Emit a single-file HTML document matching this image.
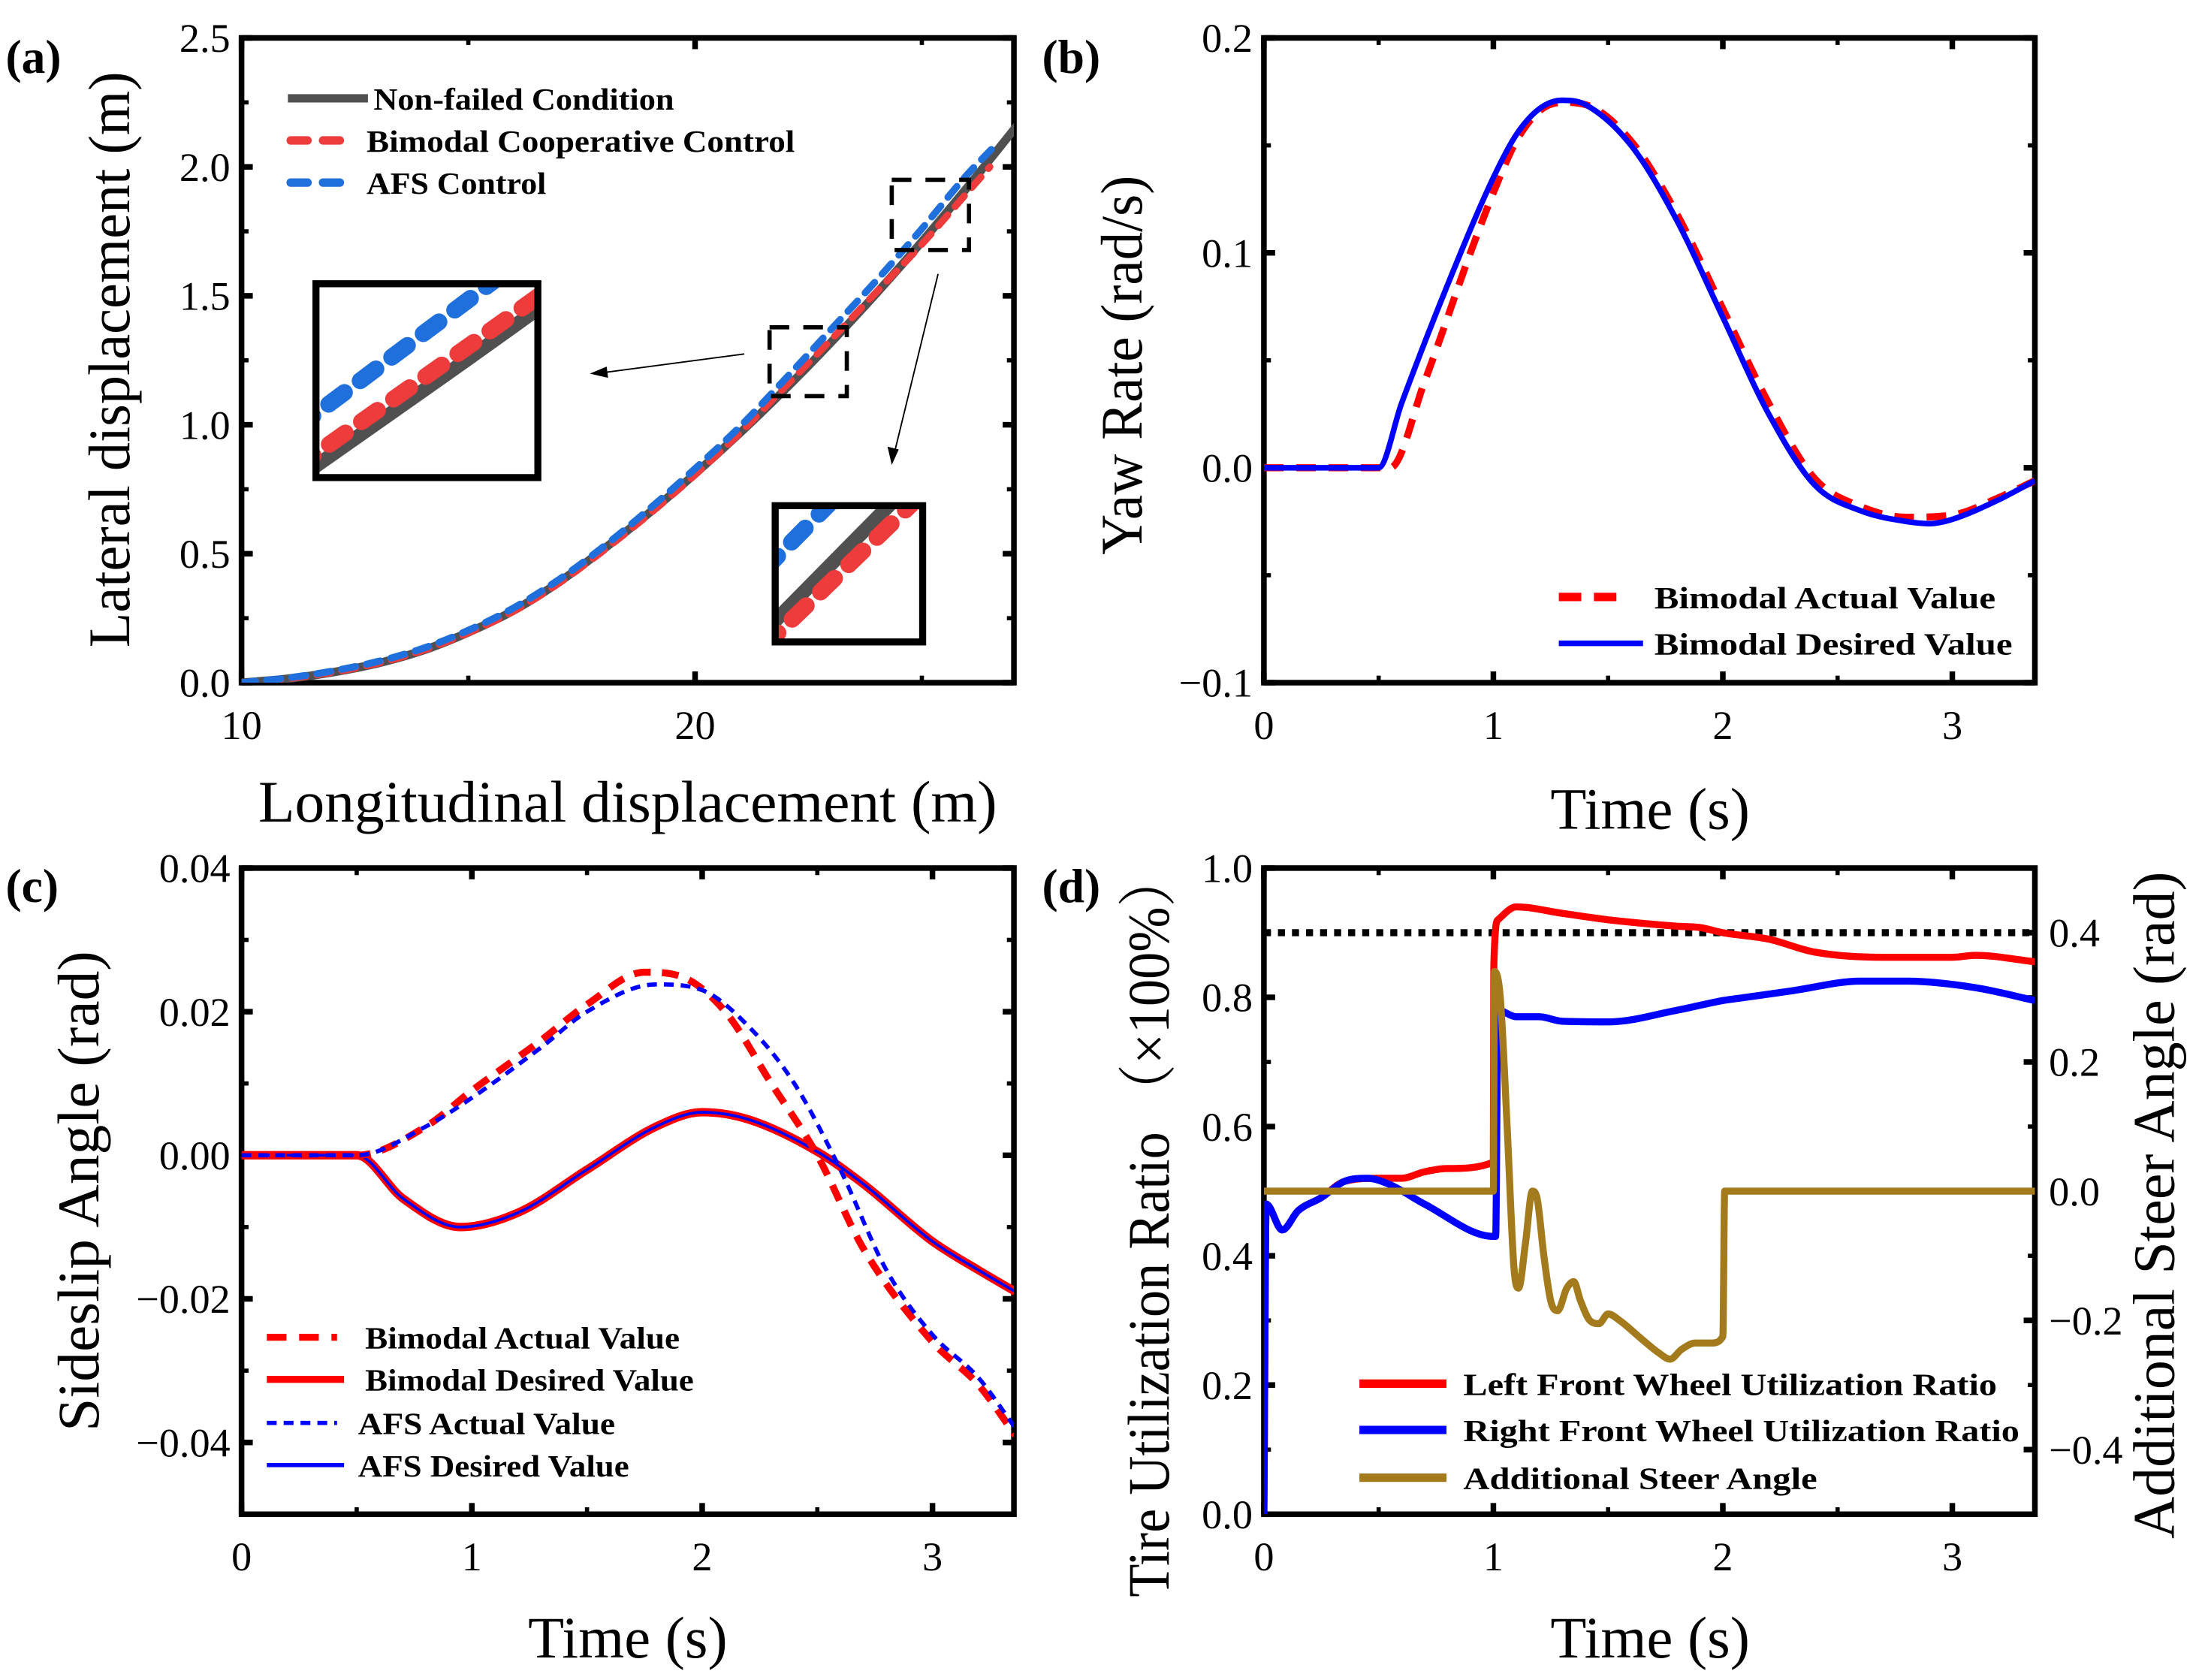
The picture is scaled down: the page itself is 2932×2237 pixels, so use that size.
<!DOCTYPE html>
<html><head><meta charset="utf-8"><style>
html,body{margin:0;padding:0;background:#fff;width:2932px;height:2237px;overflow:hidden}
svg{display:block;overflow:hidden}
text{font-family:"Liberation Serif","Noto Serif CJK SC",serif;fill:#000}
.tk{font-size:29px}
.ttl{font-size:42px}
.lg{font-size:22px;font-weight:bold}
.pl{font-size:34px;font-weight:bold}
</style></head><body>
<svg id="fig" width="2932" height="2237" viewBox="0 0 1568 1196" preserveAspectRatio="none" xmlns="http://www.w3.org/2000/svg">
<defs>
<clipPath id="ca"><rect x="172" y="27" width="550" height="459"/></clipPath>
<clipPath id="cb"><rect x="900" y="27" width="549" height="459"/></clipPath>
<clipPath id="cc"><rect x="172" y="618" width="550" height="460"/></clipPath>
<clipPath id="cd"><rect x="900" y="618" width="549" height="460"/></clipPath>
<clipPath id="ci1"><rect x="227" y="204" width="154" height="134"/></clipPath>
<clipPath id="ci2"><rect x="554" y="362" width="101" height="93"/></clipPath>
</defs>
<g id="root"></g>
</svg>
<script>
// ---------- data (a) ----------
const aNonX=[10,11,12,13,14,15,16,17,18,19,20,21,22,23,24,25,26,27.1];
const aNonY=[0,0.015,0.04,0.075,0.125,0.195,0.28,0.39,0.52,0.66,0.81,0.97,1.14,1.32,1.51,1.71,1.92,2.16];
const aBiX=[10,11,12,13,14,15,16,17,18,19,20,21,22,23,24,25,26,26.5];
const aBiY=[0,0.015,0.04,0.075,0.125,0.193,0.277,0.386,0.515,0.655,0.806,0.97,1.15,1.33,1.515,1.7,1.9,2.0];
const aAfX=[10,11,12,13,14,15,16,17,18,19,20,21,22,23,24,25,26,26.6];
const aAfY=[0,0.018,0.045,0.082,0.133,0.203,0.29,0.4,0.53,0.675,0.83,0.995,1.18,1.37,1.56,1.76,1.97,2.08];
const aXTicks=[10,20];
const aYTicks=[0,0.5,1.0,1.5,2.0,2.5];
// ---------- data (b) ----------
const bDesT=[0,0.5,0.6,0.8,1.0,1.1,1.2,1.3,1.4,1.6,1.8,2.0,2.2,2.4,2.6,2.8,2.9,3.0,3.2,3.36];
const bDesV=[0,0,0.03,0.085,0.135,0.155,0.167,0.171,0.169,0.15,0.115,0.07,0.025,-0.008,-0.02,-0.025,-0.026,-0.024,-0.015,-0.006];
const bActT=[0,0.55,0.7,0.9,1.0,1.1,1.2,1.3,1.4,1.6,1.8,2.0,2.2,2.4,2.6,2.8,3.0,3.2,3.36];
const bActV=[0,0,0.04,0.1,0.128,0.152,0.166,0.17,0.169,0.152,0.118,0.074,0.03,-0.005,-0.018,-0.023,-0.022,-0.014,-0.006];
const bXTicks=[0,1,2,3];
const bYTicks=[-0.1,0,0.1,0.2];
// ---------- data (c) ----------
const cDesT=[0,0.5,0.7,0.95,1.2,1.5,1.8,2.0,2.2,2.5,2.7,3.0,3.2,3.36];
const cDesV=[0,0,-0.006,-0.01,-0.008,-0.002,0.004,0.006,0.005,0.0005,-0.004,-0.012,-0.016,-0.019];
const cBiT=[0,0.5,0.8,1.0,1.3,1.5,1.75,1.9,2.1,2.3,2.5,2.7,3.0,3.2,3.36];
const cBiV=[0,0,0.004,0.009,0.016,0.021,0.0255,0.025,0.02,0.01,0.0,-0.013,-0.026,-0.032,-0.039];
const cAfT=[0,0.5,0.8,1.0,1.3,1.5,1.8,2.0,2.2,2.4,2.6,2.8,3.0,3.2,3.36];
const cAfV=[0,0,0.004,0.008,0.015,0.02,0.0238,0.023,0.018,0.01,-0.002,-0.016,-0.025,-0.031,-0.038];
const cXTicks=[0,1,2,3];
const cYTicks=[-0.04,-0.02,0,0.02,0.04];
// ---------- data (d) ----------
const dLT=[0,0.01,0.08,0.15,0.25,0.35,0.5,0.6,0.7,0.8,1.0,1.002,1.02,1.1,1.3,1.5,1.8,1.9,2.0,2.2,2.4,2.7,3.0,3.1,3.36];
const dLV=[0,0.48,0.44,0.47,0.49,0.515,0.52,0.52,0.53,0.535,0.545,0.85,0.92,0.94,0.93,0.92,0.91,0.908,0.9,0.89,0.87,0.862,0.862,0.865,0.855];
const dRT=[0,0.01,0.08,0.15,0.25,0.35,0.45,0.55,0.7,1.0,1.01,1.02,1.1,1.2,1.3,1.5,1.8,2.0,2.1,2.3,2.6,2.8,3.1,3.36];
const dRV=[0,0.48,0.44,0.47,0.49,0.515,0.52,0.51,0.48,0.43,0.43,0.78,0.77,0.77,0.763,0.762,0.78,0.795,0.8,0.81,0.825,0.825,0.815,0.795];
const dST=[0,1.0,1.005,1.03,1.06,1.09,1.11,1.14,1.17,1.19,1.22,1.25,1.28,1.32,1.35,1.38,1.42,1.46,1.5,1.55,1.65,1.72,1.77,1.82,1.88,1.95,2.0,2.008,3.36];
const dSV=[0,0,0.34,0.3,0.1,-0.12,-0.15,-0.08,0.0,-0.01,-0.1,-0.17,-0.185,-0.15,-0.14,-0.17,-0.2,-0.205,-0.19,-0.2,-0.23,-0.25,-0.26,-0.245,-0.235,-0.235,-0.225,0,0];
const dLimit=[0.9];
const dXTicks=[0,1,2,3];
const dYTicks=[0,0.2,0.4,0.6,0.8,1.0];
const dY2Ticks=[-0.4,-0.2,0,0.2,0.4];

const NS="http://www.w3.org/2000/svg";
const root=document.getElementById('root');
function mk(tag,attrs,parent){const e=document.createElementNS(NS,tag);for(const k in attrs)e.setAttribute(k,attrs[k]);(parent||root).appendChild(e);return e;}
function lin(d0,d1,r0,r1){return v=>r0+(v-d0)/(d1-d0)*(r1-r0);}
function pathD(xs,ys,sx,sy){
  const X=xs.map(sx),Y=ys.map(sy),n=X.length;
  if(n<3)return X.map((x,i)=>(i?'L':'M')+x.toFixed(2)+' '+Y[i].toFixed(2)).join(' ');
  const d=[],m=new Array(n);
  for(let i=0;i<n-1;i++){const h=X[i+1]-X[i];d.push(h===0?0:(Y[i+1]-Y[i])/h);}
  m[0]=d[0];m[n-1]=d[n-2];
  for(let i=1;i<n-1;i++){m[i]=(d[i-1]*d[i]<=0)?0:(d[i-1]+d[i])/2;}
  for(let i=0;i<n-1;i++){if(d[i]===0){m[i]=0;m[i+1]=0;continue;}const a=m[i]/d[i],b=m[i+1]/d[i],s=a*a+b*b;if(s>9){const t=3/Math.sqrt(s);m[i]=t*a*d[i];m[i+1]=t*b*d[i];}}
  let p='M'+X[0].toFixed(2)+' '+Y[0].toFixed(2);
  for(let i=0;i<n-1;i++){const h=(X[i+1]-X[i])/3;
    p+=' C'+(X[i]+h).toFixed(2)+' '+(Y[i]+m[i]*h).toFixed(2)+' '+(X[i+1]-h).toFixed(2)+' '+(Y[i+1]-m[i+1]*h).toFixed(2)+' '+X[i+1].toFixed(2)+' '+Y[i+1].toFixed(2);}
  return p;
}
function fmt(v,dec){let s=Math.abs(v).toFixed(dec);return (v<-1e-9?'\u2212':'')+s;}
// linear sample of a series at x (for inset end points)
function at(xs,ys,x){for(let i=0;i<xs.length-1;i++){if(x>=xs[i]&&x<=xs[i+1]){const t=(x-xs[i])/(xs[i+1]-xs[i]);return ys[i]+t*(ys[i+1]-ys[i]);}}return ys[ys.length-1];}
function sub(xs,ys,x0,x1){const X=[x0],Y=[at(xs,ys,x0)];for(let i=0;i<xs.length;i++){if(xs[i]>x0&&xs[i]<x1){X.push(xs[i]);Y.push(ys[i]);}}X.push(x1);Y.push(at(xs,ys,x1));return [X,Y];}

function frame(L,T,R,B,xt,sx,yt,sy,yt2,sy2,xdec,ydec,y2dec,pfx){
  const g=mk('g',{});
  
  
  for(let i=0;i<xt.length;i++){const v=xt[i];
    [[B,-8],[T,8]].forEach(([y,d])=>mk('line',{x1:sx(v),x2:sx(v),y1:y,y2:y+d,stroke:'#000','stroke-width':4},g));
    const t=mk('text',{x:sx(v),y:B+40,'text-anchor':'middle',class:'tk'},g);t.textContent=fmt(v,xdec);
    
  }
  const stepX=xt[1]-xt[0];
  for(let v=xt[0]-stepX/2;sx(v)<R;v+=stepX){if(sx(v)>L+2){[[B,-5],[T,5]].forEach(([y,d])=>mk('line',{x1:sx(v),x2:sx(v),y1:y,y2:y+d,stroke:'#000','stroke-width':3},g));}}
  for(const v of yt){
    mk('line',{x1:L,x2:L+8,y1:sy(v),y2:sy(v),stroke:'#000','stroke-width':4},g);
    if(!yt2) mk('line',{x1:R,x2:R-8,y1:sy(v),y2:sy(v),stroke:'#000','stroke-width':4},g);
    const t=mk('text',{x:L-8,y:sy(v)+10,'text-anchor':'end',class:'tk'},g);t.textContent=fmt(v,ydec);
    
  }
  const stepY=yt[1]-yt[0];
  for(let v=yt[0]-stepY/2;v<yt[yt.length-1]+stepY;v+=stepY){const y=sy(v);if(y<B-2&&y>T+2){mk('line',{x1:L,x2:L+5,y1:y,y2:y,stroke:'#000','stroke-width':3},g);if(!yt2)mk('line',{x1:R,x2:R-5,y1:y,y2:y,stroke:'#000','stroke-width':3},g);}}
  if(yt2){
    for(const v of yt2){mk('line',{x1:R,x2:R-8,y1:sy2(v),y2:sy2(v),stroke:'#000','stroke-width':4},g);
      const t=mk('text',{x:R+10,y:sy2(v)+10,class:'tk'},g);t.textContent=fmt(v,y2dec);
      }
    const s2=yt2[1]-yt2[0];
    for(let v=yt2[0]-s2/2;v<yt2[yt2.length-1]+s2;v+=s2){const y=sy2(v);if(y<B-2&&y>T+2)mk('line',{x1:R,x2:R-5,y1:y,y2:y,stroke:'#000','stroke-width':3},g);}
  }
  mk('rect',{x:L,y:T,width:R-L,height:B-T,fill:'none',stroke:'#000','stroke-width':4},g);
}
function series(xs,ys,sx,sy,col,w,dash,clip,name,cap){
  const p=mk('path',{d:pathD(xs,ys,sx,sy),fill:'none',stroke:col,'stroke-width':w,'stroke-linejoin':'round','clip-path':'url(#'+clip+')'});
  if(dash){p.setAttribute('stroke-dasharray',dash);}
  if(cap)p.setAttribute('stroke-linecap',cap);
  
  
  return p;
}
function legendEntry(x1,x2,y,tx,txt,col,w,dash,tl,name,cap){
  const g=mk('g',{});
  
  
  const l=mk('line',{x1:x1,x2:x2,y1:y,y2:y,stroke:col,'stroke-width':w},g);
  if(dash)l.setAttribute('stroke-dasharray',dash);
  if(cap)l.setAttribute('stroke-linecap',cap);
  const t=mk('text',{x:tx,y:y+8,class:'lg',textLength:tl,lengthAdjust:'spacingAndGlyphs'},g);t.textContent=txt;
}
function txt(x,y,s,cls,name,rot,len){
  const t=mk('text',{x:x,y:y,class:cls,'text-anchor':'middle'});
  if(len){t.setAttribute('textLength',len);t.setAttribute('lengthAdjust','spacingAndGlyphs');}
  if(rot)t.setAttribute('transform','rotate('+rot+' '+x+' '+y+')');
  t.textContent=s;
  
  
  return t;
}

// ===== Panel (a) =====
{
const sx=lin(10,27.03,172,722), sy=lin(0,2.5,486,27);
frame(172,27,722,486,aXTicks,sx,aYTicks,sy,null,null,0,1,0,'a');
series(aNonX,aNonY,sx,sy,'#505050',6,null,'ca','a-non-failed-line');
series(aBiX,aBiY,sx,sy,'#ee3b3b',5,'10 8','ca','a-bimodal-line','round');
series(aAfX,aAfY,sx,sy,'#1f6fdc',5,'10 8','ca','a-afs-line','round');
const boxes=[[22.3,1.185,23.0,1.34,227,204,381,338,'ci1'],[25.2,1.735,25.75,1.84,554,362,655,455,'ci2']];
const dash1=mk('rect',{x:548,y:233,width:55,height:49,fill:'none',stroke:'#000','stroke-width':3,'stroke-dasharray':'14 10'});

const dash2=mk('rect',{x:635,y:128,width:55,height:50,fill:'none',stroke:'#000','stroke-width':3,'stroke-dasharray':'14 10'});

for(const [x0,y0,x1,y1,L,T,R,B,cid] of boxes){
  const zx=lin(x0,x1,L,R), zy=lin(y0,y1,B,T);
  const ex0=x0-(x1-x0)*0.1, ex1=x1+(x1-x0)*0.1;
  const n=sub(aNonX,aNonY,ex0,ex1), b=sub(aBiX,aBiY,ex0,ex1), f=sub(aAfX,aAfY,ex0,ex1);
  series(n[0],n[1],zx,zy,'#505050',10,null,cid,'inset-non-failed-line');
  series(b[0],b[1],zx,zy,'#ee3b3b',12,'14 14',cid,'inset-bimodal-line','round');
  series(f[0],f[1],zx,zy,'#1f6fdc',12,'14 14',cid,'inset-afs-line','round');
  const r=mk('rect',{x:L-2,y:T-2,width:R-L+4,height:B-T+4,fill:'none',stroke:'#000','stroke-width':5});
  
}
const ar1=mk('line',{x1:530,y1:252,x2:424,y2:266,stroke:'#000','stroke-width':1});

mk('path',{d:'M420 266 L432 261 L433 269 Z',fill:'#000'});
const ar2=mk('line',{x1:668,y1:195,x2:636,y2:326,stroke:'#000','stroke-width':1});

mk('path',{d:'M635 331 L632 318 L640 320 Z',fill:'#000'});
legendEntry(205,262,70,266,'Non-failed Condition','#505050',6,null,214,'a-legend-non-failed');
legendEntry(207,250,100,261,'Bimodal  Cooperative Control','#ee3b3b',6,'12 11',305,'a-legend-bimodal','round');
legendEntry(207,250,130,261,'AFS Control','#1f6fdc',6,'12 11',128,'a-legend-afs','round');
txt(92,256,'Lateral displacement (m)','ttl','a-y-axis-title',-90,410);
txt(447,585,'Longitudinal displacement (m)','ttl','a-x-axis-title',null,526);
const p=mk('text',{x:4,y:52,class:'pl'});p.textContent='(a)';
}
// ===== Panel (b) =====
{
const sx=lin(0,1,900,1063.4), sy=lin(-0.1,0.2,486,27);
frame(900,27,1449,486,bXTicks,sx,bYTicks,sy,null,null,0,1,0,'b');
series(bActT,bActV,sx,sy,'#ff0000',5,'14 9','cb','b-bimodal-actual-line');
series(bDesT,bDesV,sx,sy,'#0000ff',4,null,'cb','b-bimodal-desired-line');
legendEntry(1110,1160,425,1178,'Bimodal Actual Value','#ff0000',6,'16 9',243,'b-legend-actual');
legendEntry(1110,1170,458,1178,'Bimodal Desired Value','#0000ff',4,null,255,'b-legend-desired');
txt(813,260,'Yaw Rate (rad/s)','ttl','b-y-axis-title',-90,270);
txt(1175,590,'Time (s)','ttl','b-x-axis-title',null,142);
const p=mk('text',{x:742,y:52,class:'pl'});p.textContent='(b)';
}
// ===== Panel (c) =====
{
const sx=lin(0,1,172,336), sy=lin(-0.05,0.04,1078,618);
frame(172,618,722,1078,cXTicks,sx,cYTicks,sy,null,null,0,2,0,'c');
series(cDesT,cDesV,sx,sy,'#ff0000',6,null,'cc','c-bimodal-desired-line');
series(cDesT,cDesV,sx,sy,'#0000ff',2,null,'cc','c-afs-desired-line');
series(cBiT,cBiV,sx,sy,'#ff0000',5,'12 8','cc','c-bimodal-actual-line');
series(cAfT,cAfV,sx,sy,'#0000ff',3,'7 5','cc','c-afs-actual-line');
legendEntry(190,240,952,260,'Bimodal Actual Value','#ff0000',5,'14 9',224,'c-legend-bimodal-actual');
legendEntry(190,245,982,260,'Bimodal Desired Value','#ff0000',5,null,234,'c-legend-bimodal-desired');
legendEntry(190,240,1013,255,'AFS Actual Value','#0000ff',3,'7 5',183,'c-legend-afs-actual');
legendEntry(190,245,1043,255,'AFS Desired Value','#0000ff',3,null,193,'c-legend-afs-desired');
txt(70,848,'Sideslip Angle (rad)','ttl','c-y-axis-title',-90,342);
txt(447,1180,'Time (s)','ttl','c-x-axis-title',null,142);
const p=mk('text',{x:4,y:642,class:'pl'});p.textContent='(c)';
}
// ===== Panel (d) =====
{
const sx=lin(0,1,900,1063.4), sy=lin(0,1,1078,618), sy2=lin(-0.5,0.5,1078,618);
frame(900,618,1449,1078,dXTicks,sx,dYTicks,sy,dY2Ticks,sy2,0,1,1,'d');
const lim=mk('line',{x1:900,x2:1449,y1:sy(dLimit[0]),y2:sy(dLimit[0]),stroke:'#000','stroke-width':5,'stroke-dasharray':'5 5'});

series(dLT,dLV,sx,sy,'#ff0000',5,null,'cd','d-left-front-line');
series(dRT,dRV,sx,sy,'#0000ff',5,null,'cd','d-right-front-line');
series(dST,dSV,sx,sy2,'#a37a1c',5,null,'cd','d-steer-angle-line');
legendEntry(968,1030,985,1042,'Left Front Wheel Utilization Ratio','#ff0000',6,null,380,'d-legend-left');
legendEntry(968,1030,1018,1042,'Right Front Wheel Utilization Ratio','#0000ff',6,null,396,'d-legend-right');
legendEntry(968,1030,1052,1042,'Additional Steer Angle','#a37a1c',6,null,252,'d-legend-steer');
txt(832,872,'Tire Utilization Ratio \uFF08\u00D7100%\uFF09','ttl','d-y-axis-title',-90,530);
txt(1548,858,'Additional Steer Angle (rad)','ttl','d-y2-axis-title',-90,475);
txt(1175,1180,'Time (s)','ttl','d-x-axis-title',null,142);
const p=mk('text',{x:742,y:642,class:'pl'});p.textContent='(d)';
}
</script>
</body></html>
